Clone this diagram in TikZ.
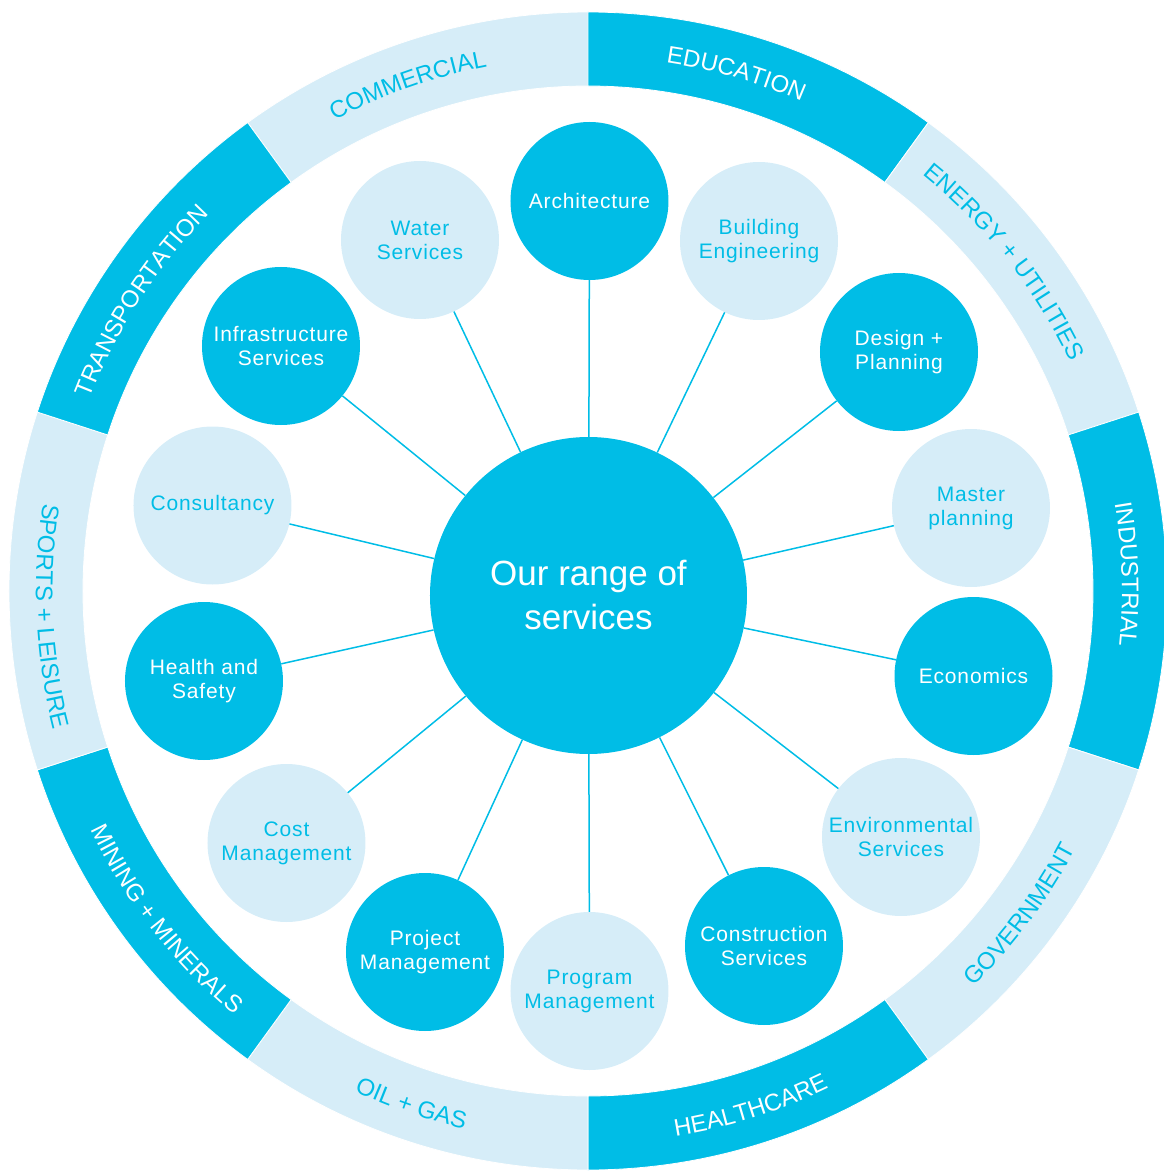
\documentclass[tikz,border=0pt]{standalone}
\usepackage{fontspec}
\setmainfont{Liberation Sans}
\newfontfamily\labelfont{Liberation Sans}[LetterSpace=4]
\usetikzlibrary{decorations.text}
\definecolor{ringblue}{RGB}{0,189,230}
\definecolor{paleblue}{RGB}{214,237,248}
\newcommand{\ringfont}{\fontsize{24}{29}\selectfont}
\begin{document}
\begin{tikzpicture}[x=1pt,y=1pt,
		darkcirc/.style={circle,fill=ringblue,text=white,minimum size=158pt,inner sep=0pt,align=center,font=\labelfont\fontsize{21}{24}\selectfont},
		lightcirc/.style={darkcirc,fill=paleblue,text=ringblue},
		spoke/.style={ringblue,line width=1.5pt}]
	\useasboundingbox (-588,-575.5) rectangle (576,595.5);
	% outer ring of sectors
	\begin{scope}[shift={(0,4.5)}]
		\foreach \a/\col in {126/paleblue,90/ringblue,54/paleblue,18/ringblue,-18/paleblue,-54/ringblue,-90/paleblue,-126/ringblue,-162/paleblue,162/ringblue}
			\filldraw[fill=\col,draw=white,line width=0.8pt] (\a:579) arc[start angle=\a,end angle=\a-36,radius=579] -- ({\a-36}:505) arc[start angle=\a-36,end angle=\a,radius=505] -- cycle;
		% upper names, read clockwise
		\path[decorate,decoration={text along path,text align=center,text color=ringblue,text={|\ringfont|COMMERCIAL}}] (127.6:534) arc[start angle=127.6,end angle=91.6,radius=534];
		\path[decorate,decoration={text along path,text align=center,text color=white,text={|\ringfont|EDUCATION}}] (92:534) arc[start angle=92,end angle=56,radius=534];
		\path[decorate,decoration={text along path,text align=center,text color=ringblue,text={|\ringfont|ENERGY + UTILITIES}}] (56.3:534) arc[start angle=56.3,end angle=20.3,radius=534];
		\path[decorate,decoration={text along path,text align=center,text color=white,text={|\ringfont|INDUSTRIAL}}] (19.8:534) arc[start angle=19.8,end angle=-16.2,radius=534];
		\path[decorate,decoration={text along path,text align=center,text color=white,text={|\ringfont|TRANSPORTATION}}] (165:534) arc[start angle=165,end angle=129,radius=534];
		% lower names, read counter-clockwise
		\path[decorate,decoration={text along path,text align=center,text color=ringblue,text={|\ringfont|GOVERNMENT}}] (-54.8:552) arc[start angle=-54.8,end angle=-18.8,radius=552];
		\path[decorate,decoration={text along path,text align=center,text color=white,text={|\ringfont|HEALTHCARE}}] (-90.5:552) arc[start angle=-90.5,end angle=-54.5,radius=552];
		\path[decorate,decoration={text along path,text align=center,text color=ringblue,text={|\ringfont|OIL + GAS}}] (-127:552) arc[start angle=-127,end angle=-91,radius=552];
		\path[decorate,decoration={text along path,text align=center,text color=white,text={|\ringfont|MINING + MINERALS}}] (-160.1:552) arc[start angle=-160.1,end angle=-124.1,radius=552];
		\path[decorate,decoration={text along path,text align=center,text color=ringblue,text={|\ringfont|SPORTS + LEISURE}}] (164.7:552) arc[start angle=164.7,end angle=200.7,radius=552];
	\end{scope}
	% hub and services
	\node[circle,fill=ringblue,minimum size=317pt,inner sep=0pt,text=white,align=center,font=\fontsize{35}{44}\selectfont] (hub) at (0.5,0) {Our range of\\services};
	\foreach \i/\sty/\x/\y/\txt in {1/darkcirc/1.5/394.5/Architecture,2/lightcirc/171/354.5/{Building\\Engineering},3/darkcirc/311/243.5/{Design +\\Planning},4/lightcirc/383/87.5/{Master\\planning},5/darkcirc/385.5/-80.5/Economics,6/lightcirc/313/-241.5/{Environmental\\Services},7/darkcirc/176/-350.5/{Construction\\Services},8/lightcirc/1.5/-395.5/{Program\\Management},9/darkcirc/-163/-356.5/{Project\\Management},10/lightcirc/-301.5/-247.5/{Cost\\Management},11/darkcirc/-384/-85.5/{Health and\\Safety},12/lightcirc/-375.5/90/Consultancy,13/darkcirc/-307/249.5/{Infrastructure\\Services},14/lightcirc/-168/355.5/{Water\\Services}}
		\node[\sty] (s\i) at (\x,\y) {\txt};
	\foreach \i in {1,...,14} \draw[spoke] (hub) -- (s\i);
\end{tikzpicture}
\end{document}
